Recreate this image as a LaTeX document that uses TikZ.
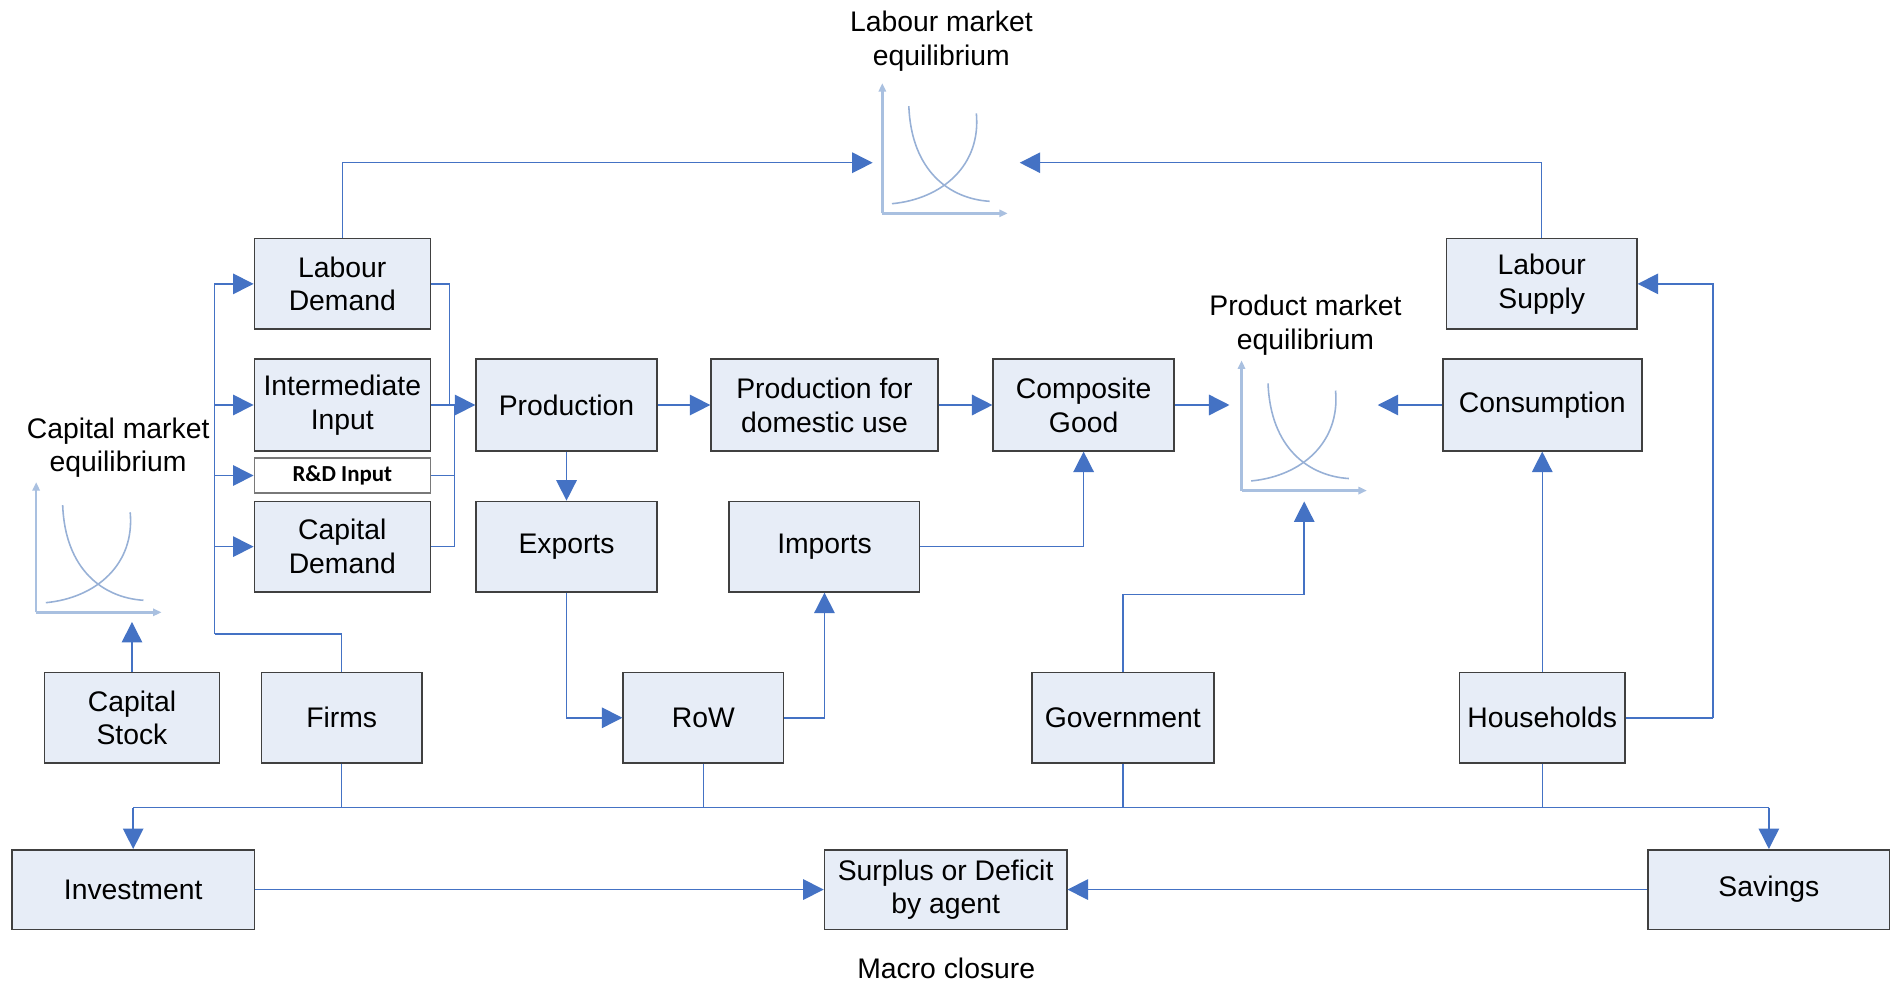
\documentclass[tikz,border=0pt]{standalone}
\usepackage{fontspec}
\setmainfont{Liberation Sans}
\newfontfamily\rdfont{Carlito}
\usetikzlibrary{arrows.meta}
\definecolor{cblue}{HTML}{4472C4}
\definecolor{boxfill}{HTML}{E7EDF7}
\definecolor{boxline}{HTML}{404040}
\definecolor{axisc}{HTML}{A9C0E0}
\definecolor{curvec}{HTML}{97B0D6}
\newcommand\eqchart[1]{%
  \begin{scope}[shift={#1}]
    \draw[axisline,-{Triangle[length=7pt,width=6pt]}] (0,0) -- (0,-108);
    \draw[axisline,-{Triangle[length=7pt,width=6pt]}] (0,0) -- (104,0);
    \draw[curveline] (22,-89) .. controls (24,-35) and (56,-12) .. (89,-10);
    \draw[curveline] (8,-8) .. controls (50,-12) and (82,-40) .. (78,-83);
  \end{scope}}
\begin{document}
\begin{tikzpicture}[x=1pt,y=-1pt,
  every node/.style={font=\fontsize{23.5}{28}\selectfont},
  box/.style={draw=boxline, fill=boxfill, line width=1.3pt, align=center, inner sep=0pt},
  lbl/.style={align=center, inner sep=0pt},
  conn/.style={draw=cblue, line width=1.2pt},
  arr/.style={conn, -{Triangle[length=17pt,width=17pt]}},
  axisline/.style={draw=axisc, line width=2pt},
  curveline/.style={draw=curvec, line width=1.3pt}]
\useasboundingbox[fill=white] (0,0) rectangle (1568,816);

% boxes
\node[box, minimum width=146pt, minimum height=75pt] (ld) at (284,235.5) {Labour\\Demand};
\node[box, minimum width=146pt, minimum height=76pt] (ii) at (284,336) {Intermediate\\Input};
\node[box, fill=white, draw=boxline!70, minimum width=146pt, minimum height=29pt, font=\rdfont\bfseries\fontsize{19}{22}\selectfont] (rd) at (284,394.5) {R\&D Input};
\node[box, minimum width=146pt, minimum height=75pt] (cd) at (284,453.5) {Capital\\Demand};
\node[box, minimum width=150pt, minimum height=76pt] (pr) at (470,336) {Production};
\node[box, minimum width=150pt, minimum height=75pt] (ex) at (470,453.5) {Exports};
\node[box, minimum width=188pt, minimum height=76pt] (pd) at (684,336) {Production for\\domestic use};
\node[box, minimum width=158pt, minimum height=75pt] (im) at (684,453.5) {Imports};
\node[box, minimum width=150pt, minimum height=76pt] (cg) at (899,336) {Composite\\Good};
\node[box, minimum width=158pt, minimum height=75pt] (ls) at (1279,235.5) {Labour\\Supply};
\node[box, minimum width=165pt, minimum height=76pt] (co) at (1279.5,336) {Consumption};
\node[box, minimum width=145pt, minimum height=75pt] (cs) at (109.5,595.5) {Capital\\Stock};
\node[box, minimum width=133pt, minimum height=75pt] (fi) at (283.5,595.5) {Firms};
\node[box, minimum width=133pt, minimum height=75pt] (rw) at (583.5,595.5) {RoW};
\node[box, minimum width=151pt, minimum height=75pt] (gv) at (931.5,595.5) {Government};
\node[box, minimum width=137pt, minimum height=75pt] (hh) at (1279.5,595.5) {Households};
\node[box, minimum width=201pt, minimum height=66pt] (inv) at (110.5,738) {Investment};
\node[box, minimum width=201pt, minimum height=66pt] (sd) at (784.5,738) {Surplus or Deficit\\by agent};
\node[box, minimum width=201pt, minimum height=66pt] (sav) at (1467.5,738) {Savings};

% labels
\node[lbl] (lmt) at (781,34) {Labour market\\equilibrium};
\node[lbl] (pmt) at (1083,270) {Product market\\equilibrium};
\node[lbl] (cmt) at (98,371.5) {Capital market\\equilibrium};
\node[lbl] (mct) at (785,803) {Macro closure};

% charts
\eqchart{(732,177)}
\eqchart{(1030,407)}
\eqchart{(30,508)}

% coordinates
\coordinate (lmL) at (724,135);
\coordinate (lmR) at (846,135);
\coordinate (pmL) at (1020,336);
\coordinate (pmR) at (1143,336);
\coordinate (pmB) at (1082,416);
\coordinate (cmB) at (109.5,516);
\coordinate (fbus) at (178,526);
\coordinate (col1) at (373,336);
\coordinate (col2) at (377,336);
\coordinate (hhR) at (1421,595.5);
\coordinate (bL) at (110.5,670);
\coordinate (bR) at (1467.5,670);

% firms bus
\draw[conn] (fi.north) |- (fbus);
\draw[arr] (fbus) |- (ld.west);
\draw[arr] (fbus |- ii.west) -- (ii.west);
\draw[arr] (fbus |- rd.west) -- (rd.west);
\draw[arr] (fbus |- cd.west) -- (cd.west);

% collector into production
\draw[conn] (ld.east) -| (col1);
\draw[conn] (cd.east) -| (col2);
\draw[conn] (rd.east) -- (rd.east -| col2);
\draw[arr] (ii.east) -- (pr.west);

% main flow
\draw[arr] (pr.east) -- (pd.west);
\draw[arr] (pd.east) -- (cg.west);
\draw[arr] (cg.east) -- (pmL);
\draw[arr] (co.west) -- (pmR);
\draw[arr] (pr.south) -- (ex.north);
\draw[arr] (ex.south) |- (rw.west);
\draw[arr] (rw.east) -| (im.south);
\draw[arr] (im.east) -| (cg.south);
\draw[arr] (gv.north) -- ++(0,-64) -| (pmB);
\draw[arr] (hh.north) -- (co.south);
\draw[conn] (hh.east) -- (hhR);
\draw[arr] (hhR) |- (ls.east);
\draw[arr] (cs.north) -- (cmB);

% labour market
\draw[arr] (ld.north) |- (lmL);
\draw[arr] (ls.north) |- (lmR);

% macro closure bus
\draw[conn] (bL) -- (bR);
\draw[conn] (fi.south) -- (fi.south |- bL);
\draw[conn] (rw.south) -- (rw.south |- bL);
\draw[conn] (gv.south) -- (gv.south |- bL);
\draw[conn] (hh.south) -- (hh.south |- bL);
\draw[arr] (bL) -- (inv.north);
\draw[arr] (bR) -- (sav.north);
\draw[arr] (inv.east) -- (sd.west);
\draw[arr] (sav.west) -- (sd.east);
\end{tikzpicture}
\end{document}
